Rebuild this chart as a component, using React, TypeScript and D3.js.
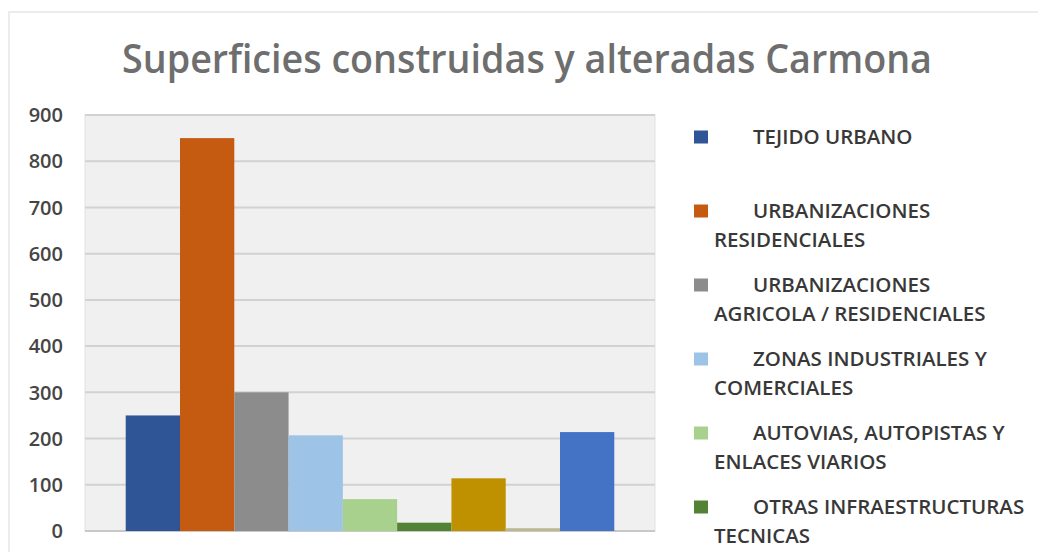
import React from 'react'
import * as d3 from 'd3'

// bar values, one per series (single category, 9 series)
const SERIES_VALUES = [250, 850, 300, 207, 69, 18, 114, 6, 214]
const SERIES_COLORS = [
  '#2f5597',
  '#c55a11',
  '#8c8c8c',
  '#9dc3e6',
  '#a9d18e',
  '#548235',
  '#bf9000',
  '#bdb98e',
  '#4472c4',
]
// visible legend entries (first line, continuation)
const LEGEND_LABELS = [
  ['TEJIDO URBANO'],
  ['URBANIZACIONES', 'RESIDENCIALES'],
  ['URBANIZACIONES', 'AGRICOLA / RESIDENCIALES'],
  ['ZONAS INDUSTRIALES Y', 'COMERCIALES'],
  ['AUTOVIAS, AUTOPISTAS Y', 'ENLACES VIARIOS'],
  ['OTRAS INFRAESTRUCTURAS', 'TECNICAS'],
]
const Y_TICKS = [0, 100, 200, 300, 400, 500, 600, 700, 800, 900]
const TITLE = 'Superficies construidas y alteradas Carmona'

const WIDTH = 1038
const HEIGHT = 552
const PLOT = { left: 85, right: 655, top: 115, bottom: 531 }
const FONT = '"Open Sans", "DejaVu Sans", sans-serif'

export default function App() {
  const x = d3
    .scaleBand<number>()
    .domain(d3.range(SERIES_VALUES.length))
    .range([PLOT.left, PLOT.right])
    .paddingInner(0)
    .paddingOuter(0.75)

  const y = d3.scaleLinear().domain([0, 900]).range([PLOT.bottom, PLOT.top])

  const legendTop = 137
  const legendStep = 74
  const lineGap = 29

  return (
    <div style={{ position: 'fixed', left: 0, top: 0, width: WIDTH, height: HEIGHT, background: '#fff' }}>
      <svg width={WIDTH} height={HEIGHT} viewBox={`0 0 ${WIDTH} ${HEIGHT}`} style={{ display: 'block' }}>
        <rect x={0} y={0} width={WIDTH} height={HEIGHT} fill="#ffffff" />
        {/* faint chart border */}
        <rect x={9} y={12} width={WIDTH + 20} height={HEIGHT + 20} fill="none" stroke="#ececec" strokeWidth={2} />

        <text
          x={527}
          y={73}
          textAnchor="middle"
          fontFamily={FONT}
          fontSize={39}
          fontWeight={600}
          fill="#6e6e6e"
          textLength={810}
          lengthAdjust="spacingAndGlyphs"
        >
          {TITLE}
        </text>

        <rect
          x={PLOT.left}
          y={PLOT.top}
          width={PLOT.right - PLOT.left}
          height={PLOT.bottom - PLOT.top}
          fill="#f0f0f0"
          stroke="#e2e2e2"
          strokeWidth={1}
        />

        {Y_TICKS.map((t) => (
          <g key={t}>
            <line
              x1={PLOT.left}
              x2={PLOT.right}
              y1={y(t)}
              y2={y(t)}
              stroke={t === 0 ? '#c8c8c8' : '#d2d2d2'}
              strokeWidth={2}
            />
            <text
              x={63}
              y={y(t)}
              dy="0.36em"
              textAnchor="end"
              fontFamily={FONT}
              fontSize={20}
              fontWeight={600}
              fill="#454545"
            >
              {t}
            </text>
          </g>
        ))}

        {SERIES_VALUES.map((v, i) => (
          <rect
            key={i}
            x={x(i)}
            y={y(v)}
            width={x.bandwidth()}
            height={y(0) - y(v)}
            fill={SERIES_COLORS[i]}
          />
        ))}

        {LEGEND_LABELS.map((lines, i) => {
          const cy = legendTop + i * legendStep
          return (
            <g key={i}>
              <rect x={694} y={cy - 6.5} width={14} height={13} fill={SERIES_COLORS[i]} />
              {lines.map((line, j) => (
                <text
                  key={j}
                  x={j === 0 ? 753 : 714}
                  y={cy + j * lineGap}
                  dy="0.36em"
                  fontFamily={FONT}
                  fontSize={20.5}
                  fontWeight={600}
                  fill="#383838"
                >
                  {line}
                </text>
              ))}
            </g>
          )
        })}
      </svg>
    </div>
  )
}
